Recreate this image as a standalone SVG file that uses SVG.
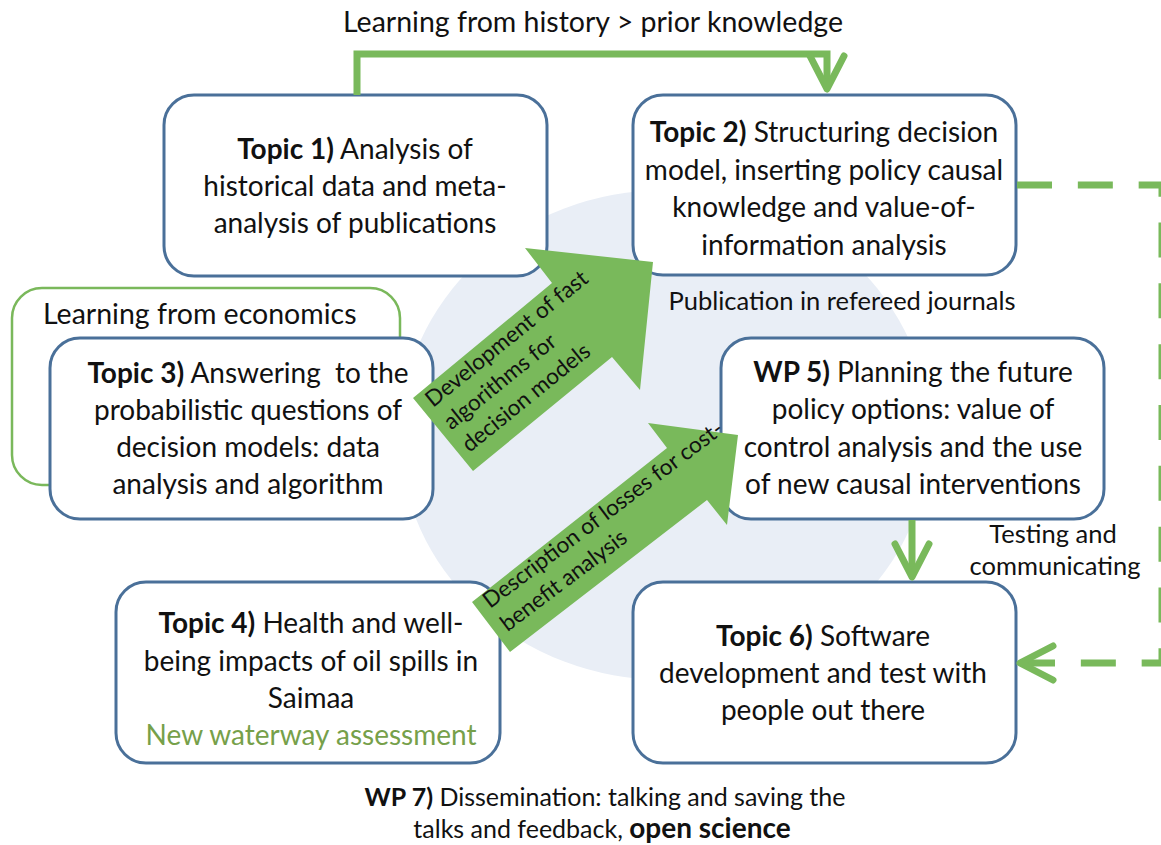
<svg xmlns="http://www.w3.org/2000/svg" width="1161" height="845" viewBox="0 0 1161 845">
<style>
.box{fill:#fff;stroke:#4a7099;stroke-width:3}
.gbox{fill:#fff;stroke:#7ab85b;stroke-width:2.5}
.t{font-family:Lato,"Liberation Sans",sans-serif;fill:#111}
.bt{font-size:28px}
.lb{font-size:28.5px}
.sl{font-size:25.5px}
.at{font-size:22.5px}
.b{font-weight:bold}
.conn{fill:none;stroke:#79b95b;stroke-width:7}
.dash{stroke-dasharray:35 25.833}
.blk{fill:#79b95b}
.mk{fill:none;stroke:#79b95b;stroke-width:7;stroke-linecap:round;stroke-linejoin:round}
</style>
<defs>
<marker id="vh" viewBox="-40 -24 46 48" refX="0" refY="0" markerWidth="46" markerHeight="48" markerUnits="userSpaceOnUse" orient="auto">
<path class="mk" d="M-33,-17 L0,0 L-33,17"/>
</marker>
</defs>
<rect width="1161" height="845" fill="#fff"/>
<ellipse cx="665" cy="435" rx="265" ry="245" fill="#e9eef6"/>

<g id="econ">
<rect class="gbox" x="12" y="288" width="388" height="197" rx="30"/>
<text class="t lb" x="43" y="324">Learning from economics</text>
</g>

<g id="topic1">
<rect class="box" x="164" y="95" width="383" height="181" rx="30"/>
<text class="t bt" text-anchor="middle"><tspan x="355" y="159"><tspan class="b">Topic 1)</tspan> Analysis of</tspan><tspan x="355" y="196">historical data and meta-</tspan><tspan x="355" y="233">analysis of publications</tspan></text>
</g>

<g id="topic2">
<rect class="box" x="633" y="95" width="383" height="180" rx="30"/>
<text class="t bt" text-anchor="middle"><tspan x="824" y="142"><tspan class="b">Topic 2)</tspan> Structuring decision</tspan><tspan x="824" y="180">model, inserting policy causal</tspan><tspan x="824" y="217">knowledge and value-of-</tspan><tspan x="824" y="255">information analysis</tspan></text>
</g>

<g id="topic3">
<rect class="box" x="50" y="338" width="383" height="181" rx="30"/>
<text class="t bt" text-anchor="middle" style="white-space:pre"><tspan x="248" y="383"><tspan class="b">Topic 3)</tspan> Answering  to the</tspan><tspan x="248" y="420">probabilistic questions of</tspan><tspan x="248" y="457">decision models: data</tspan><tspan x="248" y="494">analysis and algorithm</tspan></text>
</g>

<g id="wp5">
<rect class="box" x="721" y="338" width="383" height="181" rx="30"/>
<text class="t bt" text-anchor="middle"><tspan x="913" y="382"><tspan class="b">WP 5)</tspan> Planning the future</tspan><tspan x="913" y="419">policy options: value of</tspan><tspan x="913" y="457">control analysis and the use</tspan><tspan x="913" y="494">of new causal interventions</tspan></text>
</g>

<g id="topic4">
<rect class="box" x="116" y="582" width="384" height="181" rx="30"/>
<text class="t bt" text-anchor="middle"><tspan x="311" y="633"><tspan class="b">Topic 4)</tspan> Health and well-</tspan><tspan x="311" y="671">being impacts of oil spills in</tspan><tspan x="311" y="708">Saimaa</tspan><tspan x="311" y="745" fill="#76a04a">New waterway assessment</tspan></text>
</g>

<g id="topic6">
<rect class="box" x="633" y="582" width="383" height="181" rx="30"/>
<text class="t bt" text-anchor="middle"><tspan x="823" y="646"><tspan class="b">Topic 6)</tspan> Software</tspan><tspan x="823" y="683">development and test with</tspan><tspan x="823" y="720">people out there</tspan></text>
</g>

<g id="connectors">
<path class="conn" d="M357,95 V54 H827 V89" marker-end="url(#vh)"/>
<path class="conn dash" d="M1017,185 H1162 V663 H1020" marker-end="url(#vh)"/>
<path class="conn" d="M912,520 V577" marker-end="url(#vh)"/>
<polygon class="blk" points="413,398 552,283 525,248 653,262 640,390 612,357 473,471"/>
<polygon class="blk" points="472,602 667,448 648,423 738,435 727,525 707,500 510,652"/>
<text class="t at" transform="translate(433,408) rotate(-39)"><tspan x="0" y="0">Development of fast</tspan><tspan x="0" y="29">algorithms for</tspan><tspan x="0" y="58">decision models</tspan></text>
<text class="t at" transform="translate(490,609) rotate(-37)"><tspan x="0" y="0">Description of losses for cost-</tspan><tspan x="0" y="29">benefit analysis</tspan></text>
</g>

<g id="labels">
<text class="t lb" x="593" y="32" text-anchor="middle">Learning from history &gt; prior knowledge</text>
<text class="t sl" x="842" y="310" text-anchor="middle">Publication in refereed journals</text>
<text class="t sl" text-anchor="middle"><tspan x="1053" y="543">Testing and</tspan><tspan x="1055" y="575">communicating</tspan></text>
<text class="t" font-size="25" text-anchor="middle"><tspan x="605" y="806"><tspan class="b">WP 7)</tspan> Dissemination: talking and saving the</tspan><tspan x="602" y="838">talks and feedback, <tspan class="b" font-size="28">open science</tspan></tspan></text>
</g>
</svg>
